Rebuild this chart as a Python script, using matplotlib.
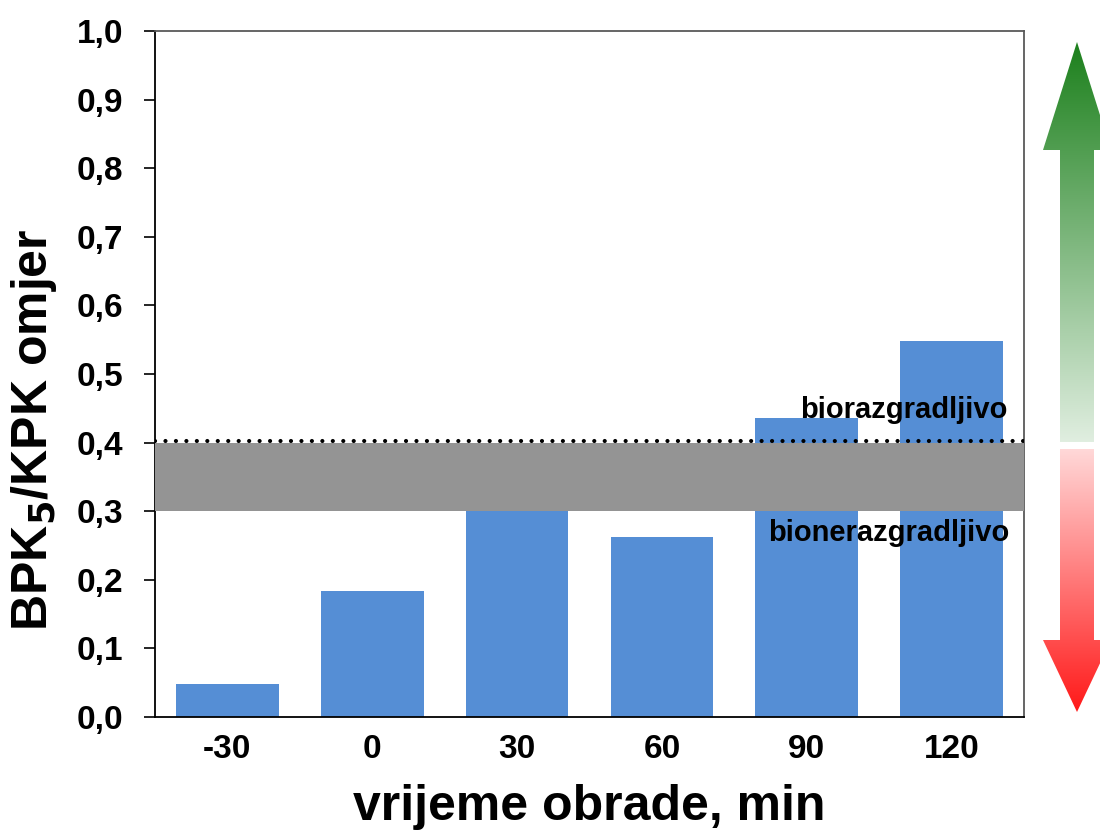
import numpy as np
import matplotlib
matplotlib.use("Agg")
import matplotlib.pyplot as plt
from matplotlib.patches import Polygon

plt.rcParams["font.family"] = ["Liberation Sans", "DejaVu Sans"]
plt.rcParams["font.weight"] = "bold"

# ---- data ----
categories = ["-30", "0", "30", "60", "90", "120"]
ratio      = [0.048, 0.184, 0.35, 0.262, 0.436, 0.548]
y_ticks    = [0.0, 0.1, 0.2, 0.3, 0.4, 0.5, 0.6, 0.7, 0.8, 0.9, 1.0]
band_lo, band_hi = 0.30, 0.40
threshold  = 0.40
# --------------

BAR_COLOR  = "#558ed5"
BAND_COLOR = "#949494"

fig = plt.figure(figsize=(11, 8.34), dpi=100)
ax = fig.add_axes([155 / 1100, 117 / 834, 869 / 1100, 686 / 834])

x = np.arange(len(categories))
ax.bar(x, ratio, width=0.71, color=BAR_COLOR, zorder=2)
ax.axhspan(band_lo, band_hi, color=BAND_COLOR, lw=0, zorder=3)
ax.axhline(threshold + 0.002, color="black", lw=3.0, ls=(0, (0.01, 2.5)),
           dash_capstyle="round", zorder=4)

ax.text(5.385, 0.447, "biorazgradljivo", ha="right", va="center",
        fontsize=21, fontweight="bold", zorder=5)
ax.text(5.40, 0.268, "bionerazgradljivo", ha="right", va="center",
        fontsize=21, fontweight="bold", zorder=5)

ax.set_xlim(-0.5, len(categories) - 0.5)
ax.set_ylim(0, 1.0)
ax.set_xticks(x)
ax.set_xticklabels(categories, fontsize=24, fontweight="bold")
ax.set_yticks(y_ticks)
ax.set_yticklabels([f"{v:.1f}".replace(".", ",") for v in y_ticks],
                   fontsize=24, fontweight="bold")
ax.tick_params(axis="x", length=0, pad=12)
ax.tick_params(axis="y", length=8, width=1.2, pad=15, direction="out")

for side in ("left", "bottom"):
    ax.spines[side].set_color("black")
    ax.spines[side].set_linewidth(1.3)
for side in ("top", "right"):
    ax.spines[side].set_color("#595959")
    ax.spines[side].set_linewidth(1.3)

ax.set_ylabel("BPK$_\\mathbf{5}$/KPK omjer", fontsize=36, fontweight="bold")
ax.yaxis.set_label_coords(-0.110, 0.418)
ax.set_xlabel("vrijeme obrade, min", fontsize=36, fontweight="bold", labelpad=14)

# ---- gradient arrows on the right (pixel coords overlay) ----
ov = fig.add_axes([0, 0, 1, 1], zorder=10)
ov.set_xlim(0, 1100)
ov.set_ylim(834, 0)
ov.axis("off")


def grad_arrow(verts, top_rgb, bot_rgb, y0, y1):
    n = 256
    t = np.linspace(0, 1, n)[:, None]
    top = np.array(top_rgb) / 255.0
    bot = np.array(bot_rgb) / 255.0
    img = (top[None, :] * (1 - t) + bot[None, :] * t)[:, None, :]
    poly = Polygon(verts, closed=True, facecolor="none", edgecolor="none")
    ov.add_patch(poly)
    im = ov.imshow(img, extent=(1040, 1115, y1, y0), aspect="auto",
                   interpolation="bilinear")
    im.set_clip_path(poly)


cx, hw, sw = 1077, 34, 17
green = [(cx, 42), (cx + hw, 150), (cx + sw, 150), (cx + sw, 442),
         (cx - sw, 442), (cx - sw, 150), (cx - hw, 150)]
grad_arrow(green, (28, 128, 28), (224, 238, 224), 42, 442)

red = [(cx - sw, 449), (cx + sw, 449), (cx + sw, 640), (cx + hw, 640),
       (cx, 712), (cx - hw, 640), (cx - sw, 640)]
grad_arrow(red, (255, 216, 216), (255, 25, 25), 449, 712)

ov.set_xlim(0, 1100)
ov.set_ylim(834, 0)

fig.savefig("out.png", dpi=100)
